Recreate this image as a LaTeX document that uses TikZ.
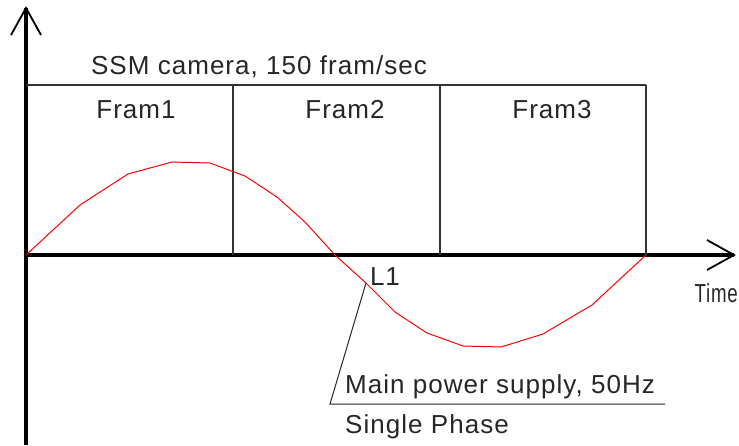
\documentclass[tikz,border=0pt]{standalone}
\usepackage{fontspec}
\setmainfont{Liberation Sans}[LetterSpace=4]
\begin{document}
\begin{tikzpicture}[x=1pt,y=-1pt,
  axis/.style={line width=3.5pt,black},
  wing/.style={line width=1.8pt,black},
  frameline/.style={line width=1.2pt,black!80},
  wave/.style={line width=1pt,red},
  leader/.style={line width=1pt,black!85},
  lbl/.style={inner sep=0pt,text=black!85,font=\fontsize{26}{30}\selectfont},
]
\useasboundingbox (0,0) rectangle (739,445);
% axes
\coordinate (O) at (26,255);
\coordinate (ytip) at (26,8);
\coordinate (xtip) at (734,255);
\coordinate (ybot) at (26,445);
\draw[axis] (ybot) -- (ytip);
\draw[axis] (O) -- (xtip);
\draw[wing] (11,35) -- (ytip) -- (41,35);
\draw[wing] (707,240) -- (xtip) -- (707,270);
% frames
\coordinate (ftl) at (26,85);
\coordinate (f1) at (233,85);
\coordinate (f2) at (440,85);
\coordinate (f3) at (646,85);
\draw[frameline] (ftl) -- (f3);
\draw[frameline] (f1) -- (233,255);
\draw[frameline] (f2) -- (440,255);
\draw[frameline] (f3) -- (646,255);
% wave
\draw[wave] (26,255) -- (80,205) -- (128,174) -- (172,162) -- (210,163) -- (245,176)
  -- (277,197) -- (305,222) -- (335,255) -- (366,283) -- (395,312) -- (427,333)
  -- (463,346) -- (501,347) -- (543,334) -- (592,305) -- (646,255);
% labels
\node[lbl] (cam) at (259,67) {SSM camera, 150 fram/sec};
\node[lbl] (fr1) at (136,110) {Fram1};
\node[lbl] (fr2) at (345,110) {Fram2};
\node[lbl] (fr3) at (552,110) {Fram3};
\node[lbl,anchor=east] (time) at (738,293) {\scalebox{0.72}[1]{Time}};
\node[lbl] (l1) at (385,277) {L1};
\node[lbl,anchor=base west] (mps) at (345,393) {Main power supply, 50Hz};
\node[lbl,anchor=base west] (sp) at (345,433) {Single Phase};
% leader
\coordinate (lp) at (366,283);
\coordinate (lk) at (330,404);
\coordinate (le) at (665,404);
\draw[leader] (lp) -- (lk) -- (le);
\end{tikzpicture}
\end{document}
